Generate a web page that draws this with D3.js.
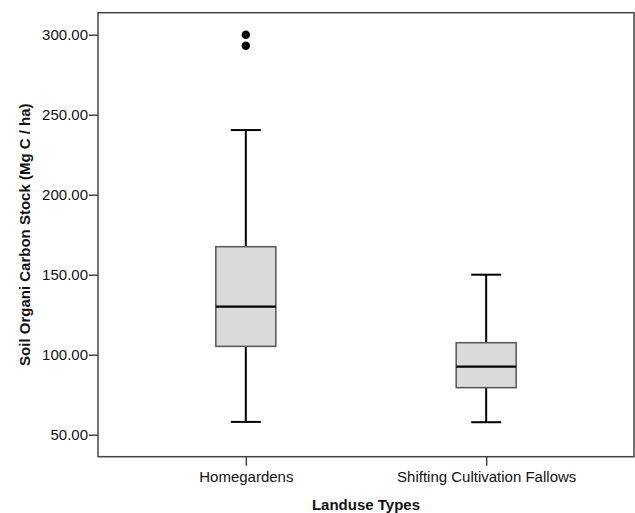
<html>
<script src='https://d3js.org/d3.v7.min.js'></script>
<style>
    body { margin: 0; background: white; }
    text { font-family: 'Liberation Sans', Arial, sans-serif; fill: #111; }
    .axis path, .axis line { stroke: #444; stroke-width: 1.5; }
</style>

<body onload='init()'>
    <svg width=635 height=513></svg>
    <script>
        // data
        const landuse = ['Homegardens', 'Shifting Cultivation Fallows'];
        const whiskerLow = [58, 57.8];
        const q1 = [105.2, 79.4];
        const median = [130, 92.5];
        const q3 = [167.5, 107.5];
        const whiskerHigh = [240.4, 150];
        const outliers = [[300, 293.1], []];
        const yTicks = [50, 100, 150, 200, 250, 300];

        function init() {
            const left = 98, right = 634, top = 12.7, bottom = 456.7;
            const svg = d3.select('svg');

            const x = d3.scalePoint().domain(landuse).range([left, right]).padding(0.615);
            const y = d3.scaleLinear().domain([36.25, 313.75]).range([bottom, top]);

            const boxes = landuse.map((d, i) => ({
                name: d, lo: whiskerLow[i], q1: q1[i], med: median[i],
                q3: q3[i], hi: whiskerHigh[i], out: outliers[i]
            }));

            // frame
            svg.append('rect')
                .attr('x', left).attr('y', top)
                .attr('width', right - left).attr('height', bottom - top)
                .attr('fill', 'none').attr('stroke', '#444').attr('stroke-width', 1.5);

            const g = svg.append('g').selectAll('g').data(boxes).enter().append('g');
            const boxW = 60, capW = 30;

            // whiskers
            g.append('line')
                .attr('x1', d => x(d.name)).attr('x2', d => x(d.name))
                .attr('y1', d => y(d.hi)).attr('y2', d => y(d.q3))
                .attr('stroke', 'black').attr('stroke-width', 2);
            g.append('line')
                .attr('x1', d => x(d.name)).attr('x2', d => x(d.name))
                .attr('y1', d => y(d.q1)).attr('y2', d => y(d.lo))
                .attr('stroke', 'black').attr('stroke-width', 2);
            ['hi', 'lo'].forEach(k => {
                g.append('line')
                    .attr('x1', d => x(d.name) - capW / 2).attr('x2', d => x(d.name) + capW / 2)
                    .attr('y1', d => y(d[k])).attr('y2', d => y(d[k]))
                    .attr('stroke', 'black').attr('stroke-width', 2);
            });

            // boxes
            g.append('rect')
                .attr('x', d => x(d.name) - boxW / 2)
                .attr('y', d => y(d.q3))
                .attr('width', boxW)
                .attr('height', d => y(d.q1) - y(d.q3))
                .attr('fill', '#d9dad9').attr('stroke', '#555').attr('stroke-width', 1.5);
            g.append('line')
                .attr('x1', d => x(d.name) - boxW / 2).attr('x2', d => x(d.name) + boxW / 2)
                .attr('y1', d => y(d.med)).attr('y2', d => y(d.med))
                .attr('stroke', 'black').attr('stroke-width', 2.2);

            // outliers
            g.selectAll('circle').data(d => d.out.map(v => ({ name: d.name, v: v })))
                .enter().append('circle')
                .attr('cx', d => x(d.name)).attr('cy', d => y(d.v))
                .attr('r', 4.2).attr('fill', 'black');

            // axes
            svg.append('g').attr('class', 'axis')
                .attr('transform', 'translate(' + left + ',0)')
                .call(d3.axisLeft(y).tickValues(yTicks).tickFormat(d3.format('.2f')).tickSize(9).tickPadding(1))
                .call(a => a.select('.domain').remove())
                .selectAll('text').style('font-size', '15px');
            svg.append('g').attr('class', 'axis')
                .attr('transform', 'translate(0,' + bottom + ')')
                .call(d3.axisBottom(x).tickSize(9).tickPadding(6))
                .call(a => a.select('.domain').remove())
                .selectAll('text').style('font-size', '15px');

            // titles
            svg.append('text')
                .attr('transform', 'translate(30,' + (top + bottom) / 2 + ') rotate(-90)')
                .attr('text-anchor', 'middle')
                .style('font-size', '15px').style('font-weight', 'bold')
                .text('Soil Organi Carbon Stock (Mg C / ha)');
            svg.append('text')
                .attr('x', (left + right) / 2).attr('y', 510)
                .attr('text-anchor', 'middle')
                .style('font-size', '15px').style('font-weight', 'bold')
                .text('Landuse Types');
        }
    </script>
</body>

</html>
